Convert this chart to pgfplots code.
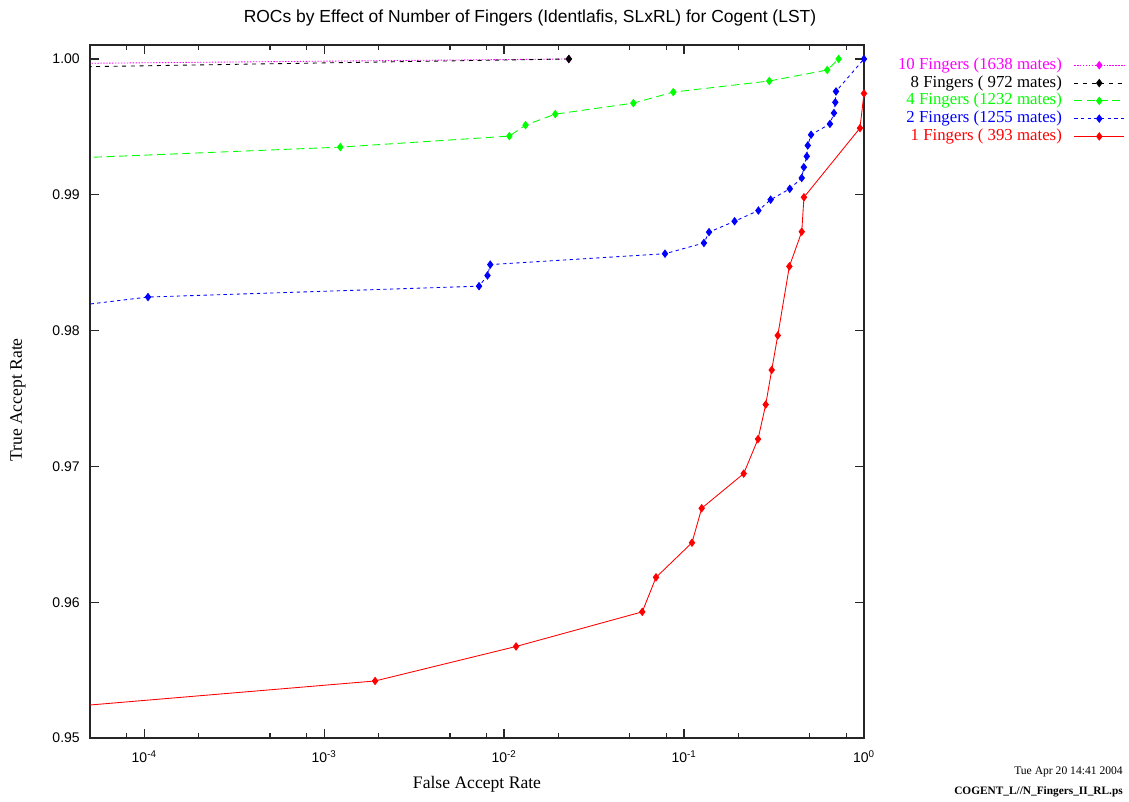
\documentclass[border=0pt]{standalone}
\usepackage{fontspec}
\setmainfont{Liberation Serif}
\setsansfont{Liberation Sans}
\usepackage{pgfplots}
\pgfplotsset{compat=1.18}
\definecolor{gpmag}{RGB}{255,0,255}
\definecolor{gpgreen}{RGB}{0,255,0}
\definecolor{gpblue}{RGB}{0,0,255}
\definecolor{gpred}{RGB}{255,0,0}
\begin{document}
\begin{tikzpicture}
\begin{axis}[
  name=ax, at={(0,0)}, anchor=south west,
  scale only axis, width=580.5pt, height=519.75pt,
  xmode=log, xmin=5e-5, xmax=1, ymin=0.95, ymax=1.00103,
  xtick={1e-4,1e-3,1e-2,1e-1,1},
  xticklabels={10\textsuperscript{-4},10\textsuperscript{-3},10\textsuperscript{-2},10\textsuperscript{-1},10\textsuperscript{0}},
  minor xtick={8e-5,2e-4,5e-4,8e-4,2e-3,5e-3,8e-3,2e-2,5e-2,8e-2,0.2,0.5,0.8},
  ytick={0.95,0.96,0.97,0.98,0.99,1.00},
  yticklabel style={/pgf/number format/fixed, /pgf/number format/fixed zerofill, /pgf/number format/precision=2, /pgf/number format/assume math mode=true},
  tick label style={font=\fontsize{10.5}{12}\selectfont\sffamily, inner sep=0pt},
  yticklabel style={anchor=east, xshift=-7.5pt},
  xticklabel style={anchor=north, yshift=-9pt},
  tick align=inside,
  major tick length=6.75pt, minor tick length=3.75pt,
  axis line style={black!85, line width=0.9pt},
  every tick/.style={black!85, line width=0.9pt},
  clip=true,
  legend style={at={(1.3372,0.9827)}, anchor=north east, draw=none, fill=none, inner sep=0pt,
    font=\fontsize{12.6}{14}\selectfont, row sep=1.35pt, column sep=9pt,
    nodes={inner sep=0pt, text height=9pt, text depth=3pt}},
  legend cell align=right,
  legend plot pos=right,
  legend image code/.code={\draw[mark repeat=2, mark phase=2, #1] plot coordinates {(0pt,0pt) (18.75pt,0pt) (37.5pt,0pt)};},
  every axis plot/.append style={line width=0.65pt, mark=diamond*, mark size=2.7pt, mark options={solid}},
]
\addplot[gpmag, dash pattern=on 1pt off 1.2pt] coordinates {(1.7e-7,0.99939) (0.0229,1.0)};
\addlegendentry{\textcolor{gpmag}{10 Fingers (1638 mates)}}
\addplot[black, dash pattern=on 3pt off 3.5pt] coordinates {(3.3e-7,0.99897) (0.0229,1.0)};
\addlegendentry{\textcolor{black}{8 Fingers ( 972 mates)}}
\addplot[gpgreen, dash pattern=on 6pt off 3.5pt] coordinates {
(3.8e-5,0.99269) (1.23e-3,0.99351) (0.01070,0.99432) (0.01316,0.99513) (0.01925,0.99594)
(0.0523,0.99675) (0.0872,0.99756) (0.2977,0.99838) (0.625,0.99919) (0.723,1.0)};
\addlegendentry{\textcolor{gpgreen}{4 Fingers (1232 mates)}}
\addplot[gpblue, dash pattern=on 2.5pt off 2.5pt] coordinates {
(3.3e-5,0.98167) (1.05e-4,0.98247) (7.26e-3,0.98327) (8.09e-3,0.98406) (8.38e-3,0.98486)
(0.0784,0.98566) (0.129,0.98645) (0.1377,0.98725) (0.191,0.98805) (0.259,0.98884)
(0.303,0.98964) (0.387,0.99044) (0.451,0.99124) (0.463,0.99203) (0.481,0.99283)
(0.487,0.99363) (0.508,0.99442) (0.647,0.99522) (0.681,0.99602) (0.693,0.99681)
(0.699,0.99761) (1.0,1.0)};
\addlegendentry{\textcolor{gpblue}{2 Fingers (1255 mates)}}
\addplot[gpred, solid] coordinates {
(1e-5,0.95165) (1.92e-3,0.95420) (0.01166,0.95674) (0.0586,0.95929) (0.0699,0.96183)
(0.1107,0.96438) (0.1254,0.96692) (0.2146,0.96947) (0.2577,0.97201) (0.2844,0.97455)
(0.3071,0.97710) (0.3318,0.97964) (0.385,0.98473) (0.451,0.98728) (0.464,0.98982)
(0.95,0.99491) (1.0,0.99746)};
\addlegendentry{\textcolor{gpred}{1 Fingers ( 393 mates)}}
\end{axis}
\node[font=\fontsize{13.1}{15}\selectfont\sffamily] at (330pt,540pt) {ROCs by Effect of Number of Fingers (Identlafis, SLxRL) for Cogent (LST)};
\node[font=\fontsize{13.2}{15}\selectfont] at (290.25pt,-34.5pt) {False Accept Rate};
\node[font=\fontsize{13.2}{15}\selectfont, rotate=90] at (-54pt,253.5pt) {True Accept Rate};
\node[font=\fontsize{8.7}{10}\selectfont, anchor=east, inner sep=0pt] at (774.75pt,-25.5pt) {Tue Apr 20 14:41 2004};
\node[font=\fontsize{8.5}{10}\selectfont\bfseries, anchor=east, inner sep=0pt] at (774.75pt,-40.5pt) {COGENT\_L//N\_Fingers\_II\_RL.ps};
\pgfresetboundingbox
\path[use as bounding box] (-67.5pt,-47.25pt) rectangle (779.25pt,553.5pt);
\end{tikzpicture}
\end{document}
